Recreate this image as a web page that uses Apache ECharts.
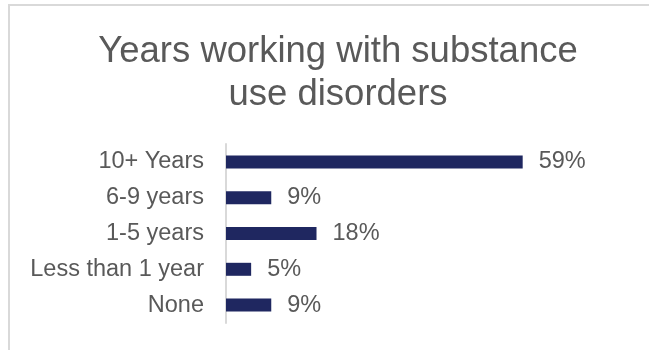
<!DOCTYPE html>
<html>
<head>
<meta charset="utf-8">
<script src="https://cdn.jsdelivr.net/npm/echarts@6/dist/echarts.min.js"></script>
<style>
html,body{margin:0;padding:0;overflow:hidden;background:#fff;}
#chart{position:absolute;left:8px;top:4px;width:656px;height:360px;border:2px solid #d9d9d9;}
</style>
</head>
<body>
<div id="chart"></div>
<script>
//数据
var categories = ['10+ Years', '6-9 years', '1-5 years', 'Less than 1 year', 'None'];
var values = [59, 9, 18, 5, 9];
var titleText = 'Years working with substance\nuse disorders';

//初始化图表
function ChartInit(chartid){
	var myChart = echarts.init(document.getElementById(chartid));
	var option = {
		animation: false,
		title: {
			text: titleText,
			left: 'center',
			top: 19,
			textStyle: {
				fontFamily: 'Liberation Sans',
				fontSize: 36.5,
				fontWeight: 'normal',
				color: '#595959',
				lineHeight: 43
			}
		},
		grid: {
			left: 216,
			top: 138,
			width: 352,
			height: 179,
			containLabel: false
		},
		xAxis: {
			type: 'value',
			min: 0,
			max: 70,
			show: false
		},
		yAxis: {
			type: 'category',
			inverse: true,
			data: categories,
			axisLine: {show: true, lineStyle: {color: '#d9d9d9', width: 2}},
			axisTick: {show: false},
			axisLabel: {
				margin: 22,
				fontFamily: 'Liberation Sans',
				fontSize: 23.5,
				color: '#595959'
			}
		},
		series: [{
			type: 'bar',
			data: values,
			barWidth: 13,
			itemStyle: {color: '#1f2760'},
			label: {
				show: true,
				position: 'right',
				distance: 16,
				formatter: '{c}%',
				fontFamily: 'Liberation Sans',
				fontSize: 23.5,
				color: '#595959'
			}
		}]
	};
	myChart.setOption(option);
	return myChart;
}
ChartInit('chart');
</script>
</body>
</html>
